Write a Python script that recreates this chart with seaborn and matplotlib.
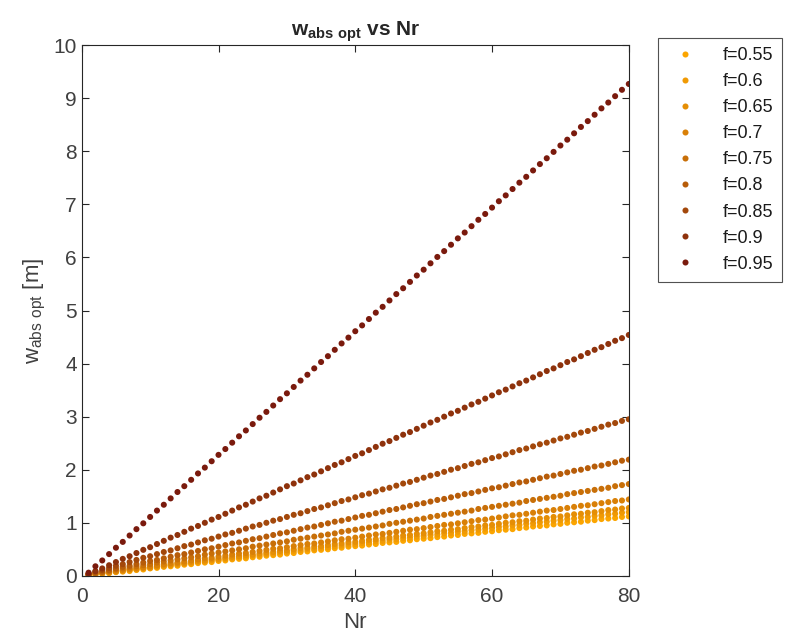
import pandas as pd
import numpy as np
import matplotlib
matplotlib.use("Agg")
import matplotlib.pyplot as plt
import seaborn as sns

# Nr values and w_abs_opt per f value
nr = list(range(1, 81))

f_labels = ["f=0.55", "f=0.6", "f=0.65", "f=0.7", "f=0.75", "f=0.8", "f=0.85", "f=0.9", "f=0.95"]

w_055 = [0.01, 0.02, 0.04, 0.05, 0.07, 0.08, 0.09, 0.11, 0.12, 0.14, 0.15, 0.17, 0.18, 0.19, 0.21, 0.22,
         0.24, 0.25, 0.26, 0.28, 0.29, 0.31, 0.32, 0.33, 0.35, 0.36, 0.38, 0.39, 0.40, 0.42, 0.43, 0.45,
         0.46, 0.48, 0.49, 0.50, 0.52, 0.53, 0.55, 0.56, 0.57, 0.59, 0.60, 0.62, 0.63, 0.64, 0.66, 0.67,
         0.69, 0.70, 0.71, 0.73, 0.74, 0.76, 0.77, 0.79, 0.80, 0.81, 0.83, 0.84, 0.86, 0.87, 0.88, 0.90,
         0.91, 0.93, 0.94, 0.95, 0.97, 0.98, 1.00, 1.01, 1.02, 1.04, 1.05, 1.07, 1.08, 1.09, 1.11, 1.12]
w_060 = [0.02, 0.03, 0.05, 0.06, 0.08, 0.09, 0.11, 0.12, 0.14, 0.15, 0.17, 0.18, 0.20, 0.21, 0.23, 0.24,
         0.26, 0.27, 0.29, 0.30, 0.32, 0.33, 0.35, 0.36, 0.38, 0.39, 0.41, 0.42, 0.44, 0.45, 0.47, 0.48,
         0.50, 0.51, 0.53, 0.54, 0.56, 0.57, 0.59, 0.60, 0.62, 0.63, 0.65, 0.66, 0.68, 0.69, 0.71, 0.72,
         0.74, 0.75, 0.77, 0.78, 0.80, 0.81, 0.83, 0.84, 0.86, 0.87, 0.89, 0.90, 0.92, 0.93, 0.95, 0.96,
         0.98, 0.99, 1.01, 1.02, 1.04, 1.05, 1.07, 1.08, 1.10, 1.11, 1.13, 1.14, 1.16, 1.17, 1.19, 1.20]
w_065 = [0.02, 0.04, 0.05, 0.07, 0.08, 0.10, 0.12, 0.13, 0.15, 0.16, 0.18, 0.20, 0.21, 0.23, 0.24, 0.26,
         0.28, 0.29, 0.31, 0.32, 0.34, 0.36, 0.37, 0.39, 0.40, 0.42, 0.44, 0.45, 0.47, 0.48, 0.50, 0.52,
         0.53, 0.55, 0.56, 0.58, 0.60, 0.61, 0.63, 0.64, 0.66, 0.68, 0.69, 0.71, 0.72, 0.74, 0.76, 0.77,
         0.79, 0.80, 0.82, 0.84, 0.85, 0.87, 0.88, 0.90, 0.92, 0.93, 0.95, 0.96, 0.98, 1.00, 1.01, 1.03,
         1.04, 1.06, 1.08, 1.09, 1.11, 1.12, 1.14, 1.16, 1.17, 1.19, 1.20, 1.22, 1.24, 1.25, 1.27, 1.28]
w_070 = [0.02, 0.04, 0.06, 0.07, 0.09, 0.11, 0.13, 0.15, 0.16, 0.18, 0.20, 0.22, 0.24, 0.25, 0.27, 0.29,
         0.31, 0.33, 0.34, 0.36, 0.38, 0.40, 0.42, 0.43, 0.45, 0.47, 0.49, 0.51, 0.52, 0.54, 0.56, 0.58,
         0.60, 0.61, 0.63, 0.65, 0.67, 0.69, 0.70, 0.72, 0.74, 0.76, 0.78, 0.79, 0.81, 0.83, 0.85, 0.87,
         0.88, 0.90, 0.92, 0.94, 0.96, 0.97, 0.99, 1.01, 1.03, 1.05, 1.06, 1.08, 1.10, 1.12, 1.14, 1.15,
         1.17, 1.19, 1.21, 1.23, 1.24, 1.26, 1.28, 1.30, 1.32, 1.33, 1.35, 1.37, 1.39, 1.41, 1.42, 1.44]
w_075 = [0.03, 0.05, 0.07, 0.09, 0.12, 0.14, 0.16, 0.18, 0.20, 0.22, 0.25, 0.27, 0.29, 0.31, 0.33, 0.35,
         0.37, 0.40, 0.42, 0.44, 0.46, 0.48, 0.50, 0.52, 0.55, 0.57, 0.59, 0.61, 0.63, 0.65, 0.68, 0.70,
         0.72, 0.74, 0.76, 0.78, 0.80, 0.83, 0.85, 0.87, 0.89, 0.91, 0.93, 0.95, 0.98, 1.00, 1.02, 1.04,
         1.06, 1.08, 1.11, 1.13, 1.15, 1.17, 1.19, 1.21, 1.23, 1.26, 1.28, 1.30, 1.32, 1.34, 1.36, 1.38,
         1.41, 1.43, 1.45, 1.47, 1.49, 1.51, 1.54, 1.56, 1.58, 1.60, 1.62, 1.64, 1.66, 1.69, 1.71, 1.73]
w_080 = [0.03, 0.06, 0.08, 0.11, 0.14, 0.17, 0.19, 0.22, 0.25, 0.28, 0.30, 0.33, 0.36, 0.39, 0.41, 0.44,
         0.47, 0.50, 0.52, 0.55, 0.58, 0.61, 0.63, 0.66, 0.69, 0.71, 0.74, 0.77, 0.80, 0.82, 0.85, 0.88,
         0.91, 0.93, 0.96, 0.99, 1.02, 1.04, 1.07, 1.10, 1.13, 1.15, 1.18, 1.21, 1.24, 1.26, 1.29, 1.32,
         1.35, 1.37, 1.40, 1.43, 1.45, 1.48, 1.51, 1.54, 1.56, 1.59, 1.62, 1.65, 1.67, 1.70, 1.73, 1.76,
         1.78, 1.81, 1.84, 1.87, 1.89, 1.92, 1.95, 1.98, 2.00, 2.03, 2.06, 2.08, 2.11, 2.14, 2.17, 2.19]
w_085 = [0.04, 0.08, 0.11, 0.15, 0.19, 0.22, 0.26, 0.30, 0.34, 0.37, 0.41, 0.45, 0.48, 0.52, 0.56, 0.59,
         0.63, 0.67, 0.70, 0.74, 0.78, 0.81, 0.85, 0.89, 0.93, 0.96, 1.00, 1.04, 1.07, 1.11, 1.15, 1.18,
         1.22, 1.26, 1.29, 1.33, 1.37, 1.41, 1.44, 1.48, 1.52, 1.55, 1.59, 1.63, 1.66, 1.70, 1.74, 1.77,
         1.81, 1.85, 1.89, 1.92, 1.96, 2.00, 2.03, 2.07, 2.11, 2.14, 2.18, 2.22, 2.25, 2.29, 2.33, 2.37,
         2.40, 2.44, 2.48, 2.51, 2.55, 2.59, 2.62, 2.66, 2.70, 2.73, 2.77, 2.81, 2.85, 2.88, 2.92, 2.95]
w_090 = [0.03, 0.09, 0.14, 0.20, 0.26, 0.32, 0.37, 0.43, 0.49, 0.54, 0.60, 0.66, 0.72, 0.77, 0.83, 0.89,
         0.94, 1.00, 1.06, 1.11, 1.17, 1.23, 1.29, 1.34, 1.40, 1.46, 1.51, 1.57, 1.63, 1.69, 1.74, 1.80,
         1.86, 1.91, 1.97, 2.03, 2.09, 2.14, 2.20, 2.26, 2.31, 2.37, 2.43, 2.49, 2.54, 2.60, 2.66, 2.71,
         2.77, 2.83, 2.89, 2.94, 3.00, 3.06, 3.11, 3.17, 3.23, 3.28, 3.34, 3.40, 3.46, 3.51, 3.57, 3.63,
         3.68, 3.74, 3.80, 3.86, 3.91, 3.97, 4.03, 4.08, 4.14, 4.20, 4.26, 4.31, 4.37, 4.43, 4.48, 4.54]
w_095 = [0.06, 0.18, 0.29, 0.41, 0.53, 0.64, 0.76, 0.88, 0.99, 1.11, 1.23, 1.34, 1.46, 1.58, 1.69, 1.81,
         1.93, 2.04, 2.16, 2.28, 2.39, 2.51, 2.63, 2.74, 2.86, 2.98, 3.09, 3.21, 3.33, 3.44, 3.56, 3.68,
         3.79, 3.91, 4.03, 4.14, 4.26, 4.38, 4.49, 4.61, 4.72, 4.84, 4.96, 5.07, 5.19, 5.31, 5.42, 5.54,
         5.66, 5.77, 5.89, 6.01, 6.12, 6.24, 6.36, 6.47, 6.59, 6.71, 6.82, 6.94, 7.06, 7.17, 7.29, 7.41,
         7.52, 7.64, 7.76, 7.87, 7.99, 8.11, 8.22, 8.34, 8.46, 8.57, 8.69, 8.81, 8.92, 9.04, 9.16, 9.27]

series = [w_055, w_060, w_065, w_070, w_075, w_080, w_085, w_090, w_095]

colors = ["#FBA500", "#F09A04", "#E58E05", "#D98007", "#C86F08",
          "#B75C09", "#A3480B", "#8E320C", "#7A1A0D"]

frames = []
for lab, vals in zip(f_labels, series):
    frames.append(pd.DataFrame({"Nr": nr, "w": vals, "f": lab}))
df = pd.concat(frames, ignore_index=True)

sns.set_style("ticks")
plt.rcParams["font.family"] = ["Liberation Sans", "DejaVu Sans"]
plt.rcParams["mathtext.fontset"] = "custom"
plt.rcParams["mathtext.rm"] = "Liberation Sans"
plt.rcParams["mathtext.bf"] = "Liberation Sans:bold"

fig = plt.figure(figsize=(7.86, 6.37), dpi=100)
ax = fig.add_axes([0.104, 0.096, 0.696, 0.833])

sns.scatterplot(data=df, x="Nr", y="w", hue="f", palette=colors, hue_order=f_labels,
                s=19, linewidth=0, ax=ax, legend=True)

ax.set_xlim(0, 80)
ax.set_ylim(0, 10)
ax.set_xticks([0, 20, 40, 60, 80])
ax.set_yticks(range(0, 11))
for sp in ax.spines.values():
    sp.set_visible(True)
    sp.set_color("#262626")
    sp.set_linewidth(0.8)
ax.tick_params(direction="in", top=True, right=True, length=5, width=0.8,
               labelsize=15, colors="#262626", labelcolor="#404040")
ax.tick_params(axis="x", pad=8)

ax.set_xlabel("Nr", fontsize=16, color="#404040")
ax.set_ylabel(r"$\mathrm{w}_{\mathrm{abs\ opt}}$ [m]", fontsize=16, color="#404040", labelpad=4)
ax.set_title(r"$\mathbf{w}_{\mathbf{abs\ opt}}$ vs Nr", fontsize=15, fontweight="bold", pad=7)

leg = ax.legend(loc="upper left", bbox_to_anchor=(1.053, 1.013), fontsize=13,
                frameon=True, fancybox=False, borderpad=0.5, labelspacing=0.5,
                handletextpad=1.1, markerscale=1.0, borderaxespad=0)
leg.get_frame().set_edgecolor("#262626")
leg.get_frame().set_linewidth(0.8)
for t in leg.get_texts():
    t.set_color("#1a1a1a")

fig.savefig("out.png", dpi=100)
